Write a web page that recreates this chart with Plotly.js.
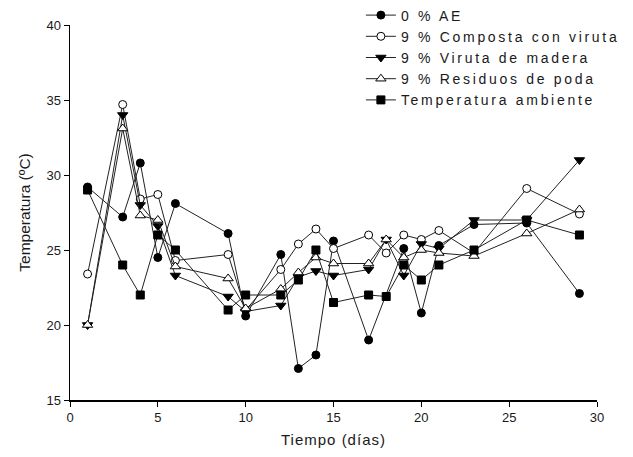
<!DOCTYPE html>
<html>
<head>
<meta charset="utf-8">
<script src="https://cdn.plot.ly/plotly-3.0.1.min.js"></script>
<style>
html,body{margin:0;padding:0;background:#fff;}
#chart{width:633px;height:457px;}
.legendtext{letter-spacing:2.7px;}
#chart .g-xtitle text{letter-spacing:1px;}
</style>
</head>
<body>
<div id="chart"></div>
<script>
const days = [1, 3, 4, 5, 6, 9, 10, 12, 13, 14, 15, 17, 18, 19, 20, 21, 23, 26, 29];
const seriesNames = ["0 % AE", "9 % Composta con viruta", "9 % Viruta de madera", "9 % Residuos de poda", "Temperatura ambiente"];
const ae        = [29.2, 27.2, 30.8, 24.5, 28.1, 26.1, 20.6, 24.7, 17.1, 18.0, 25.6, 19.0, null, 25.1, 20.8, 25.3, 26.7, 26.8, 22.1];
const composta  = [23.4, 34.7, 28.4, 28.7, 24.3, 24.7, 21.0, 23.7, 25.4, 26.4, 25.1, 26.0, 24.8, 26.0, 25.7, 26.3, 24.8, 29.1, 27.4];
const viruta    = [20.0, 34.0, 28.0, 26.6, 23.3, 21.9, 20.9, 21.3, 23.2, 23.6, 23.3, 23.7, 25.7, 23.3, 25.4, 25.1, 27.0, 27.0, 31.0];
const residuos  = [20.0, 33.1, 27.3, 27.0, 23.9, 23.1, 21.1, 22.4, 23.5, 24.5, 24.1, 24.1, 25.7, 24.5, 25.0, 24.8, 24.6, 26.1, 27.7];
const ambiente  = [29.0, 24.0, 22.0, 26.0, 25.0, 21.0, 22.0, 22.0, 23.0, 25.0, 21.5, 22.0, 21.9, 24.0, 23.0, 24.0, 25.0, 27.0, 26.0];
const xTicks = [0, 5, 10, 15, 20, 25, 30];
const yTicks = [15, 20, 25, 30, 35, 40];

const values = [ae, composta, viruta, residuos, ambiente];
const markers = [
  {symbol: "circle", size: 8, color: "#000"},
  {symbol: "circle", size: 8, color: "#fff"},
  {symbol: "triangle-down", size: 9, color: "#000"},
  {symbol: "triangle-up", size: 9, color: "#fff"},
  {symbol: "square", size: 8, color: "#000"}
];

const traces = values.map((v, i) => ({
  x: days, y: v, name: seriesNames[i], type: "scatter", mode: "lines+markers",
  connectgaps: true,
  line: {color: "#222", width: 1},
  marker: Object.assign({line: {color: "#000", width: 1}}, markers[i]),
  cliponaxis: false
}));

const font = {family: "Liberation Sans, Arial, sans-serif", color: "#1a1a1a"};
const layout = {
  width: 633, height: 457,
  margin: {l: 70, r: 36, t: 25, b: 57, autoexpand: false},
  paper_bgcolor: "#fff", plot_bgcolor: "#fff",
  font: Object.assign({size: 12}, font),
  showlegend: true,
  legend: {x: 0.552, y: 1.068, xanchor: "left", yanchor: "top",
           bgcolor: "rgba(0,0,0,0)", font: Object.assign({size: 14}, font), tracegroupgap: 0},
  xaxis: {range: [0, 30], tickvals: xTicks, ticks: "outside", ticklen: 5, tickcolor: "#000",
          showline: true, linecolor: "#000", linewidth: 1.5, showgrid: false, zeroline: false,
          tickfont: Object.assign({size: 13}, font),
          title: {text: "Tiempo (días)", font: Object.assign({size: 15}, font), standoff: 10}},
  yaxis: {range: [15, 40], tickvals: yTicks, ticks: "outside", ticklen: 5, tickcolor: "#000",
          showline: true, linecolor: "#000", linewidth: 1.5, showgrid: false, zeroline: false,
          tickfont: Object.assign({size: 13}, font),
          title: {text: "Temperatura (ºC)", font: Object.assign({size: 15.5}, font), standoff: 12}}
};
Plotly.newPlot("chart", traces, layout, {displayModeBar: false, staticPlot: true});
</script>
</body>
</html>
